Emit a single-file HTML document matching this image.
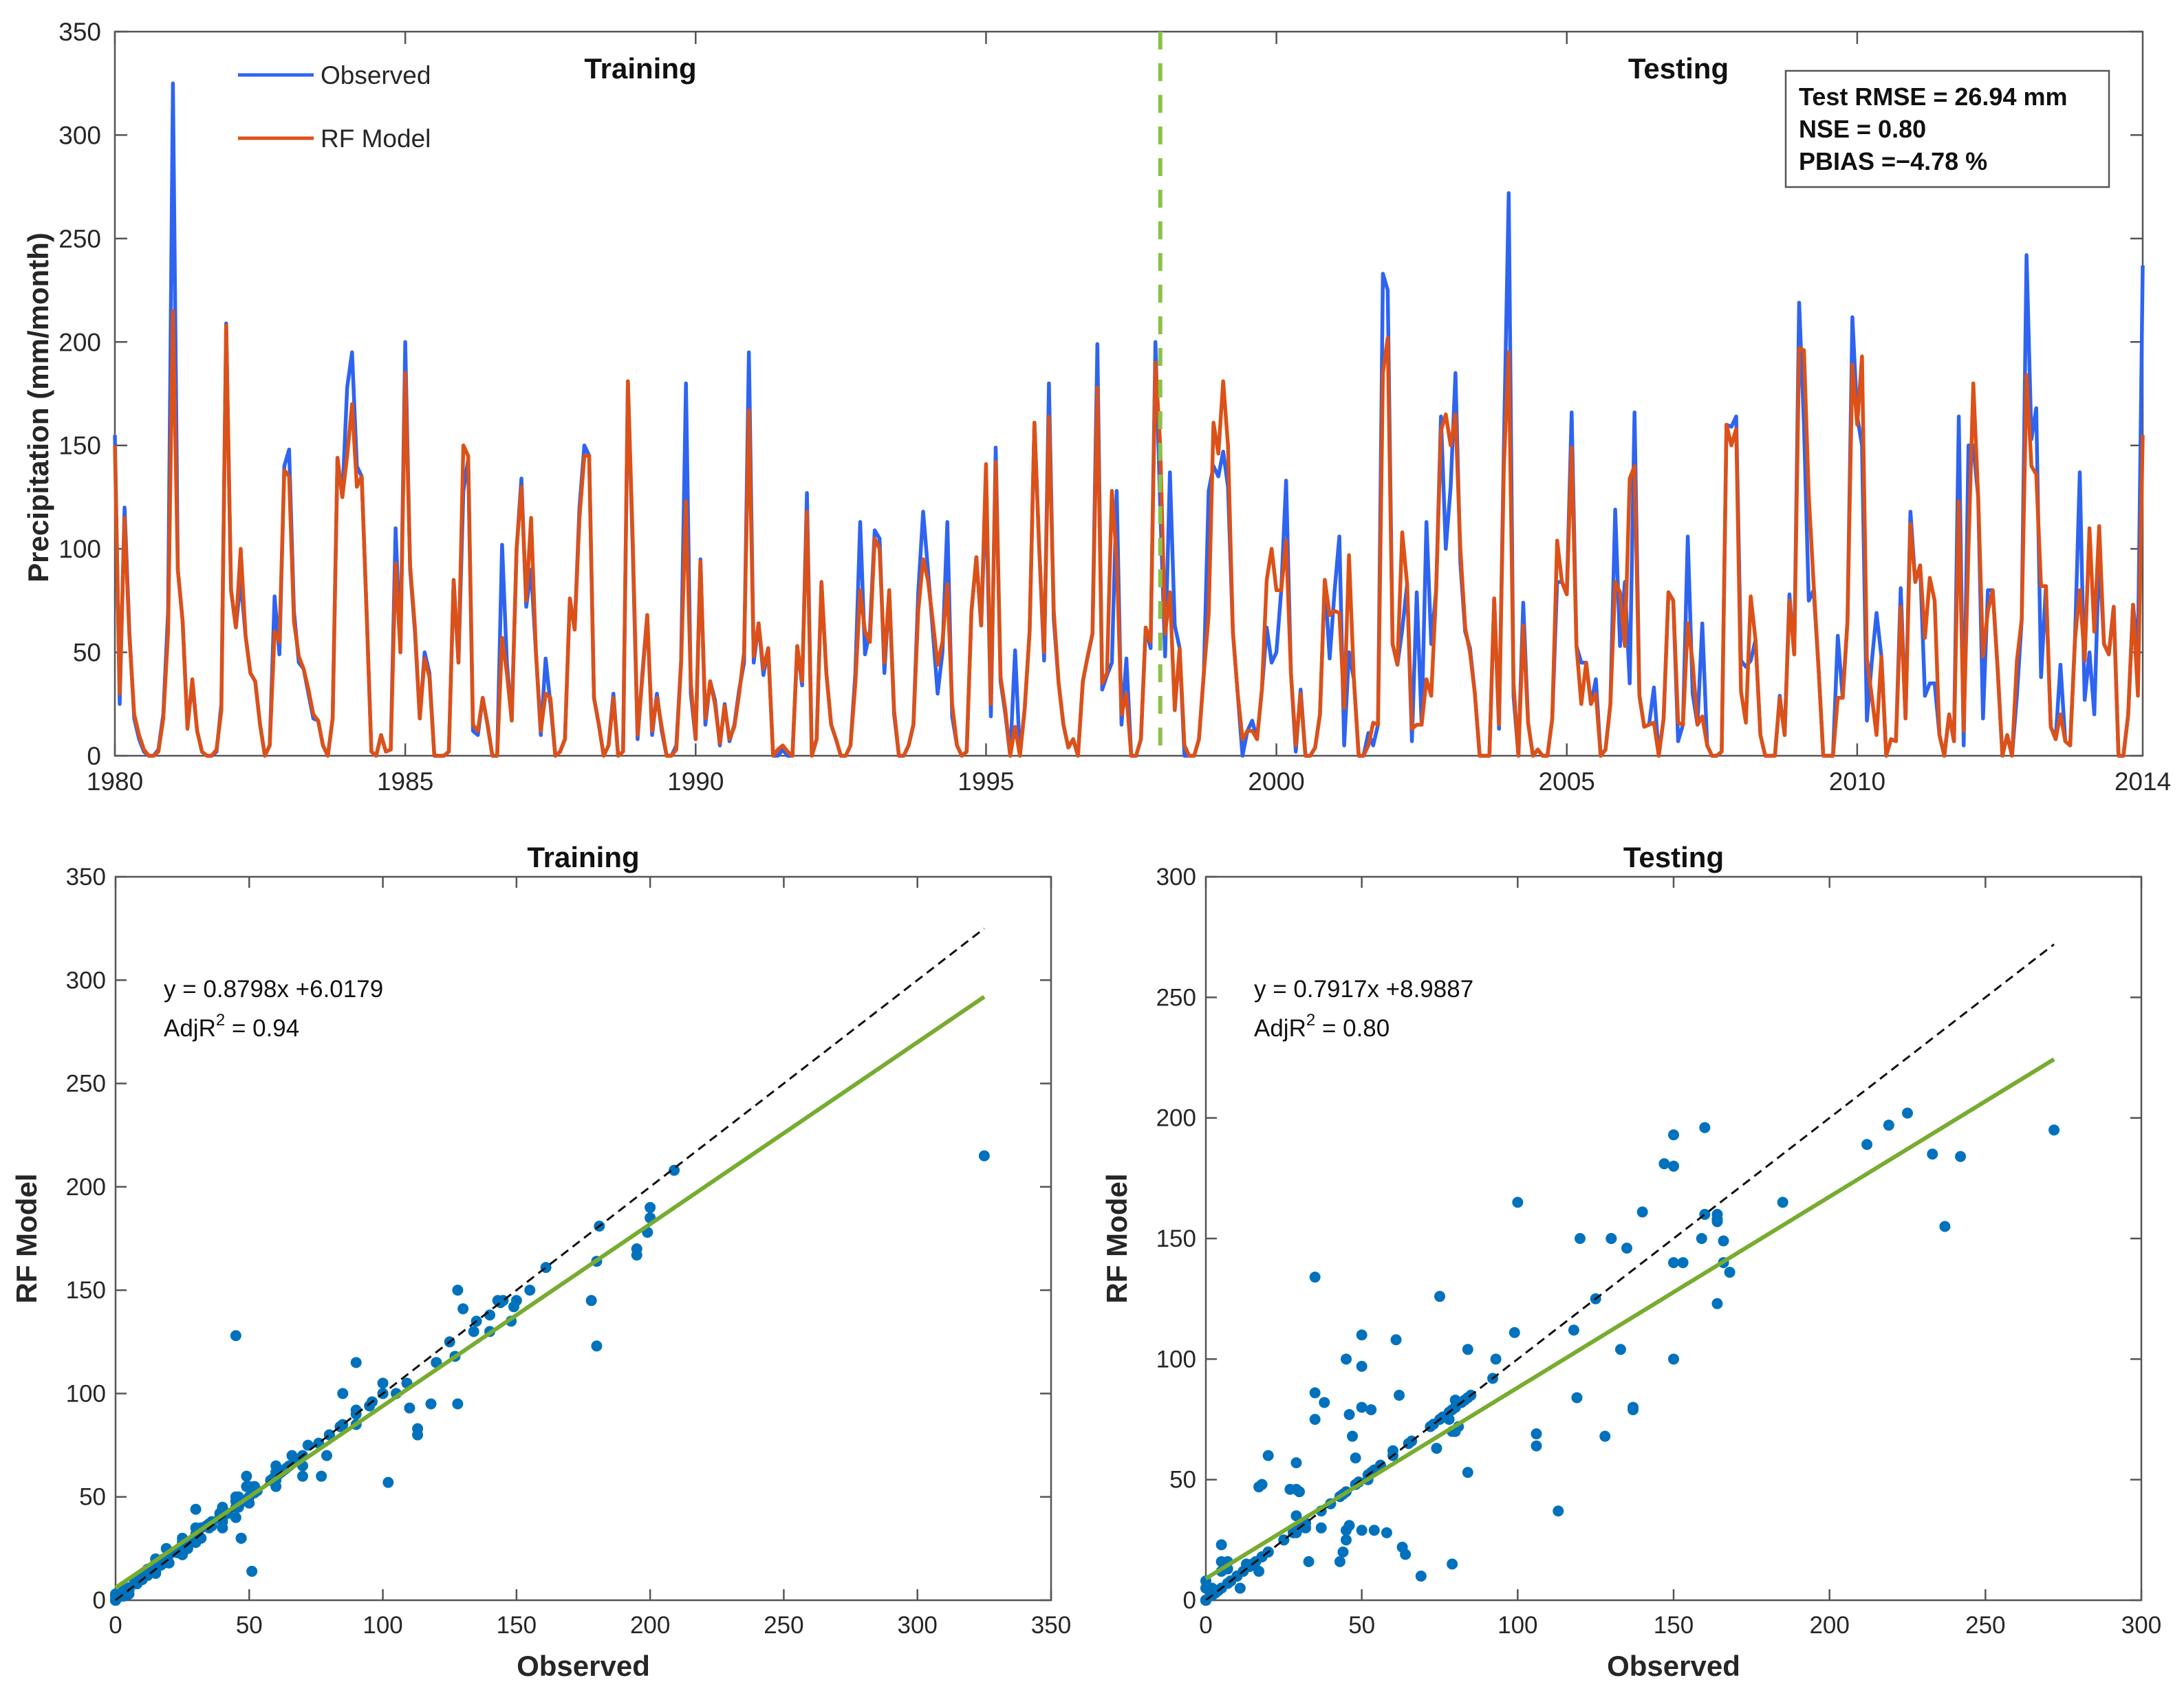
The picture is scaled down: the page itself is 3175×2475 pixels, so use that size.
<!DOCTYPE html>
<html><head><meta charset="utf-8"><style>
html,body{margin:0;padding:0;background:#fff;}
svg{display:block;font-family:"Liberation Sans",Arial,sans-serif;}
</style></head><body>
<svg id="fig" width="3175" height="2475" viewBox="0 0 3175 2475" xmlns="http://www.w3.org/2000/svg">
<rect width="3175" height="2475" fill="#fff"/>
</svg>
<script>
const obsSeries = [
155,25,120,60,18,8,2,0,0,3,20,70,
325,90,65,15,35,12,2,0,0,2,25,209,
80,62,85,58,40,36,15,0,5,77,49,140,
148,70,45,42,30,18,17,5,0,18,144,125,
178,195,140,135,70,2,0,10,2,3,110,50,
200,90,60,18,50,40,0,0,0,2,85,45,
128,143,12,10,28,15,0,0,102,45,17,100,
134,72,90,50,10,47,25,0,2,8,76,61,
120,150,145,28,15,0,5,30,0,2,181,100,
8,40,68,10,30,12,0,0,5,46,180,30,
8,95,15,36,27,5,25,7,15,32,45,195,
45,64,39,52,0,0,3,0,0,53,34,127,
0,8,84,40,15,8,0,0,5,40,113,49,
60,109,105,40,80,20,0,0,5,15,79,118,
90,60,30,50,113,19,5,0,2,70,96,63,
130,19,149,36,20,0,51,0,23,60,161,100,
46,180,66,35,15,4,8,0,36,48,59,199,
32,39,45,128,15,47,0,0,8,62,52,200,
120,48,137,63,52,0,0,0,8,40,128,140,
135,147,130,60,30,0,12,17,8,32,62,45,
50,80,133,40,2,32,0,0,4,20,85,47,
79,106,5,50,37,0,0,11,5,15,233,225,
54,44,61,83,7,79,15,113,54,80,164,100,
130,185,93,60,52,30,0,0,0,76,13,150,
272,29,0,74,16,0,3,0,0,18,84,84,
78,166,53,45,45,25,37,0,3,25,119,53,
84,35,166,29,14,15,33,0,18,79,75,7,
15,106,30,15,64,5,0,0,2,160,159,164,
46,43,46,56,10,0,0,0,29,10,78,49,
219,160,75,80,43,0,0,0,58,28,65,212,
164,150,17,45,69,48,0,8,7,81,18,118,
84,92,29,35,35,10,0,20,7,164,5,150,
150,125,18,80,80,43,0,10,0,29,66,242,
153,168,38,82,14,8,44,7,5,56,137,27,
50,20,99,54,49,72,0,0,20,73,50,237];
const modelSeries = [
150,30,115,58,20,10,3,0,0,2,18,60,
215,90,65,13,37,12,2,0,0,3,22,208,
80,62,100,58,40,36,15,0,5,60,55,138,
135,65,48,42,32,20,17,5,0,18,144,125,
145,170,130,135,70,2,0,10,2,3,93,50,
185,92,62,18,47,38,0,0,0,2,85,45,
150,145,15,12,28,15,0,0,57,40,17,100,
130,75,115,50,12,30,28,0,2,8,76,61,
115,145,145,28,15,0,5,28,0,2,181,105,
10,38,68,12,28,14,0,0,3,45,123,35,
8,94,18,36,25,6,24,8,14,30,50,167,
48,64,42,52,0,3,5,2,0,53,36,118,
0,8,84,40,15,8,0,0,5,35,80,60,
55,105,100,45,80,22,0,0,5,15,70,95,
85,65,44,55,83,25,5,0,2,70,96,63,
141,25,142,38,22,0,14,0,23,60,161,100,
50,164,70,35,15,4,8,0,36,48,59,178,
35,40,128,95,20,30,0,0,8,62,55,190,
150,59,79,22,52,5,0,0,8,40,68,161,
146,181,150,60,30,8,12,12,8,32,85,100,
80,80,104,40,5,30,0,0,4,20,85,68,
70,69,23,97,37,0,0,5,16,15,185,202,
54,44,108,83,13,15,15,37,29,80,157,165,
150,165,100,62,50,30,0,0,0,76,15,140,
195,35,0,63,16,0,3,0,0,18,104,84,
78,149,53,25,45,25,30,0,3,25,84,79,
53,134,140,29,14,15,16,0,18,79,75,16,
15,64,45,15,19,5,0,0,2,160,150,158,
31,16,77,56,10,0,0,0,28,10,75,49,
197,196,126,83,43,0,0,0,28,28,65,189,
160,193,47,29,10,48,0,8,7,72,18,112,
84,92,57,86,75,10,0,20,7,123,12,100,
180,125,48,70,80,43,0,10,0,46,66,184,
140,136,82,82,14,8,20,7,5,56,80,46,
110,60,111,54,49,72,0,0,20,73,29,155];
const startYear = 1980;
const splitYear = 1998;
const yearTicks = [1980,1985,1990,1995,2000,2005,2010];
const lastTickLabel = "2014";
const topYTicks = [0,50,100,150,200,250,300,350];
const trainTicks = [0,50,100,150,200,250,300,350];
const testTicks = [0,50,100,150,200,250,300];
const trainFit = [0.8798, 6.0179];
const testFit = [0.7917, 8.9887];
const trainMaxObs = 325;
const testMaxObs = 272;

const NS = "http://www.w3.org/2000/svg";
const svg = document.getElementById('fig');
function mk(tag, attrs, parent){
  const e = document.createElementNS(NS, tag);
  for (const k in attrs) e.setAttribute(k, attrs[k]);
  (parent||svg).appendChild(e);
  return e;
}
function txt(s, attrs, parent){ const t = mk('text', attrs, parent); t.textContent = s; return t; }

/* ---------- top time series ---------- */
const T = {l:167, r:3115, t:46, b:1099};
const nM = obsSeries.length;
const tx = i => T.l + i*(T.r-T.l)/(nM-1);
const tyr = y => tx((y-startYear)*12);
const ty = v => T.b - v*(T.b-T.t)/350;

const topG = mk('g', {});


const topBox = mk('rect', {x:T.l, y:T.t, width:T.r-T.l, height:T.b-T.t, fill:'none', stroke:'#555', 'stroke-width':2.5}, topG);


topYTicks.forEach(v=>{
  const y = ty(v);
  mk('line',{x1:T.l,x2:T.l+18,y1:y,y2:y,stroke:'#555','stroke-width':2.5},topG);
  mk('line',{x1:T.r,x2:T.r-18,y1:y,y2:y,stroke:'#555','stroke-width':2.5},topG);
  const t = txt(String(v),{x:T.l-20,y:y+13,'text-anchor':'end','font-size':37,fill:'#262626'},topG);
  
  
});
yearTicks.forEach(yr=>{
  const x = tyr(yr);
  mk('line',{x1:x,x2:x,y1:T.b,y2:T.b-18,stroke:'#555','stroke-width':2.5},topG);
  mk('line',{x1:x,x2:x,y1:T.t,y2:T.t+18,stroke:'#555','stroke-width':2.5},topG);
  const t = txt(String(yr),{x:x,y:T.b+50,'text-anchor':'middle','font-size':37,fill:'#262626'},topG);
  
  
});
const lastT = txt(lastTickLabel,{x:T.r,y:T.b+50,'text-anchor':'middle','font-size':37,fill:'#262626'},topG);



const yl = txt('Precipitation (mm/month)',{x:0,y:0,transform:`translate(70,${(T.t+T.b)/2+20}) rotate(-90)`,'text-anchor':'middle','font-size':42,'font-weight':'bold',fill:'#262626'},topG);



function pathFor(arr){ return arr.map((v,i)=>(i?'L':'M')+tx(i).toFixed(1)+' '+ty(v).toFixed(1)).join(' '); }
const obsLine = mk('path',{d:pathFor(obsSeries),fill:'none',stroke:'#2E64F0','stroke-width':5.5,'stroke-linejoin':'round'},topG);


const modLine = mk('path',{d:pathFor(modelSeries),fill:'none',stroke:'#DC5118','stroke-width':5.5,'stroke-linejoin':'round'},topG);



const sx = tyr(splitYear);
const split = mk('line',{x1:sx,x2:sx,y1:T.t,y2:T.b,stroke:'#8CC04A','stroke-width':6,'stroke-dasharray':'26 20'},topG);



const trL = txt('Training',{x:931,y:114,'text-anchor':'middle','font-size':42,'font-weight':'bold',fill:'#111'},topG);


const teL = txt('Testing',{x:2440,y:114,'text-anchor':'middle','font-size':42,'font-weight':'bold',fill:'#111'},topG);



const leg = mk('g',{},topG);


mk('line',{x1:346,x2:456,y1:109,y2:109,stroke:'#2E64F0','stroke-width':5},leg);
const l1 = txt('Observed',{x:466,y:122,'font-size':37,fill:'#262626'},leg);


mk('line',{x1:346,x2:456,y1:201,y2:201,stroke:'#DC5118','stroke-width':5},leg);
const l2 = txt('RF Model',{x:466,y:214,'font-size':37,fill:'#262626'},leg);



const stat = mk('g',{},topG);


mk('rect',{x:2596,y:103,width:470,height:169,fill:'#fff',stroke:'#555','stroke-width':2.5},stat);
['Test RMSE = 26.94 mm','NSE = 0.80','PBIAS =\u22124.78 %'].forEach((s,k)=>{
  const t = txt(s,{x:2615,y:153+k*47,'font-size':36,'font-weight':'bold',fill:'#111'},stat);
  
  
});

/* ---------- scatter panels ---------- */
function scatter(opts){
  const A = opts.box, max = opts.max;
  const sxf = v => A.l + v*(A.r-A.l)/max;
  const syf = v => A.b - v*(A.b-A.t)/max;
  const g = mk('g',{});
  
  
  const box = mk('rect',{x:A.l,y:A.t,width:A.r-A.l,height:A.b-A.t,fill:'none',stroke:'#555','stroke-width':2.5},g);
  
  
  opts.ticks.forEach(v=>{
    const x = sxf(v), y = syf(v);
    mk('line',{x1:x,x2:x,y1:A.b,y2:A.b-16,stroke:'#555','stroke-width':2.5},g);
    mk('line',{x1:x,x2:x,y1:A.t,y2:A.t+16,stroke:'#555','stroke-width':2.5},g);
    mk('line',{x1:A.l,x2:A.l+16,y1:y,y2:y,stroke:'#555','stroke-width':2.5},g);
    mk('line',{x1:A.r,x2:A.r-16,y1:y,y2:y,stroke:'#555','stroke-width':2.5},g);
    const a = txt(String(v),{x:x,y:A.b+48,'text-anchor':'middle','font-size':35,fill:'#262626'},g);
    
    
    const b = txt(String(v),{x:A.l-14,y:y+12,'text-anchor':'end','font-size':35,fill:'#262626'},g);
    
    
  });
  const cx = (A.l+A.r)/2;
  const ti = txt(opts.title,{x:cx,y:A.t-14,'text-anchor':'middle','font-size':42,'font-weight':'bold',fill:'#111'},g);
  
  
  const xl = txt('Observed',{x:cx,y:A.b+110,'text-anchor':'middle','font-size':42,'font-weight':'bold',fill:'#262626'},g);
  
  
  const yl2 = txt('RF Model',{x:0,y:0,transform:`translate(${A.l-115},${(A.t+A.b)/2}) rotate(-90)`,'text-anchor':'middle','font-size':42,'font-weight':'bold',fill:'#262626'},g);
  
  
  for (let i=opts.from;i<opts.to;i++){
    const c = mk('circle',{cx:sxf(obsSeries[i]),cy:syf(modelSeries[i]),r:8,fill:'#0072BD'},g);
    
    
  }
  const d = mk('line',{x1:sxf(0),y1:syf(0),x2:sxf(opts.maxObs),y2:syf(opts.maxObs),stroke:'#111','stroke-width':3,'stroke-dasharray':'13 8'},g);
  
  
  const f = mk('line',{x1:sxf(0),y1:syf(opts.fit[1]),x2:sxf(opts.maxObs),y2:syf(opts.fit[0]*opts.maxObs+opts.fit[1]),stroke:'#77AC30','stroke-width':6},g);
  
  
  const e1 = txt(opts.eq,{x:A.l+70,y:A.t+175,'font-size':35,fill:'#111'},g);
  
  
  const e2 = mk('text',{x:A.l+70,y:A.t+232,'font-size':35,fill:'#111'},g);
  
  
  e2.appendChild(document.createTextNode('AdjR'));
  const sup = mk('tspan',{dy:-16,'font-size':24},e2); sup.textContent='2';
  const rest = mk('tspan',{dy:16},e2); rest.textContent=' = '+opts.r2;
}
scatter({name:'training-scatter',box:{l:168,r:1528,t:1275,b:2327},max:350,ticks:trainTicks,title:'Training',
  from:0,to:216,fit:trainFit,maxObs:trainMaxObs,eq:'y = 0.8798x +6.0179',r2:'0.94'});
scatter({name:'testing-scatter',box:{l:1753,r:3113,t:1275,b:2327},max:300,ticks:testTicks,title:'Testing',
  from:216,to:obsSeries.length,fit:testFit,maxObs:testMaxObs,eq:'y = 0.7917x +8.9887',r2:'0.80'});
</script>
</body></html>
